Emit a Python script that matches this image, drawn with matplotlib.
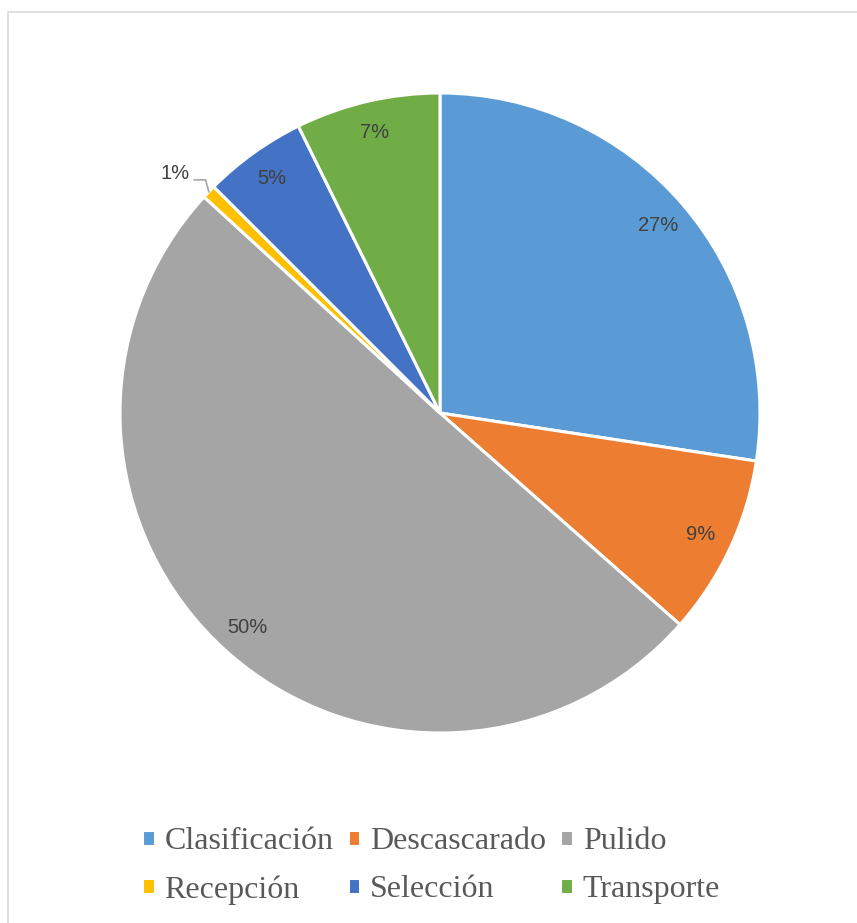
import numpy as np
import matplotlib
matplotlib.use("Agg")
import matplotlib.pyplot as plt
from matplotlib.patches import Rectangle

# Datos del grafico
etapas = ["Clasificación", "Descascarado", "Pulido", "Recepción", "Selección", "Transporte"]
porcentajes = [27.4, 9.1, 50.3, 0.7, 5.2, 7.3]
colores = ["#5B9BD5", "#ED7D31", "#A5A5A5", "#FFC000", "#4472C4", "#70AD47"]

fig = plt.figure(figsize=(8.57, 9.23), dpi=100)

# Marco del grafico
fig.patches.append(Rectangle((8 / 857, -0.1), 1.0, 1 - 12 / 923 + 0.1,
                             transform=fig.transFigure, fill=False,
                             edgecolor="#D9D9D9", linewidth=1.2))

ax = fig.add_axes([120 / 857, 190 / 923, 640 / 857, 640 / 923])

cunas, textos, autotextos = ax.pie(
    porcentajes, colors=colores, startangle=90, counterclock=False,
    autopct=lambda p: f"{p:.0f}%", pctdistance=0.9,
    wedgeprops=dict(edgecolor="white", linewidth=2.2),
    textprops=dict(family="Liberation Sans", fontsize=14.5, color="#404040"))
ax.set_xlim(-1, 1)
ax.set_ylim(-1, 1)
ax.set_aspect("equal")
ax.axis("off")

# Etiqueta externa para la porcion pequena (Recepcion)
i = etapas.index("Recepción")
cuna = cunas[i]
ang = np.deg2rad((cuna.theta1 + cuna.theta2) / 2)
x0, y0 = np.cos(ang), np.sin(ang)
ax.plot([x0, x0 - 0.01, x0 - 0.045], [y0, y0 + 0.037, y0 + 0.037],
        color="#A6A6A6", linewidth=1.2, clip_on=False)
autotextos[i].set_position((x0 - 0.105, y0 + 0.058))

# Leyenda (orden por filas)
orden = [0, 3, 1, 4, 2, 5]
fig.legend([cunas[k] for k in orden], [etapas[k] for k in orden],
           ncol=3, loc="center", bbox_to_anchor=(431 / 857, 1 - 866 / 923),
           frameon=False, prop=dict(family="Liberation Serif", size=23),
           labelcolor="#595959", handlelength=0.4, handleheight=0.4,
           handletextpad=0.3, columnspacing=0.45, labelspacing=0.6)

plt.savefig("out.png", dpi=100)
